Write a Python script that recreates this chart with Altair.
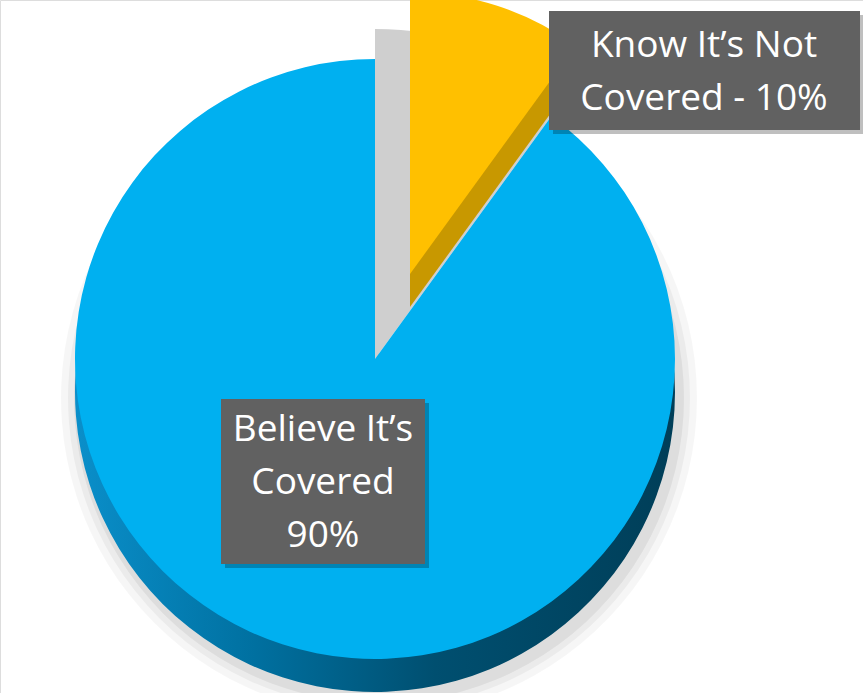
import math
import altair as alt
import pandas as pd

# ---- data ----
categories = ["Know It’s Not Covered", "Believe It’s Covered"]
values = [10, 90]
labels = ["Know It’s Not\nCovered - 10%", "Believe It’s\nCovered\n90%"]
top_colors = ["#FFC000", "#00B0F0"]

df = pd.DataFrame({"category": categories, "value": values, "label": labels})

# ---- layout / style ----
CX, CY = 375, 359      # pie centre
R = 300                # pie radius
DEPTH = 33             # 3-D side depth
EX, EY = 35, -85       # explode offset for the small slice
RY = 282               # radius of the exploded slice

theta_scale = alt.Scale(domain=[0, 100], range=[0, 2 * math.pi])

base = alt.Chart(df).transform_stack(
    stack="value", groupby=[], as_=["t0", "t1"], sort=[alt.SortField("value", order="ascending")]
)

fill_scale = alt.Scale(domain=categories, range=top_colors)


def slice_layer(cat, x, y, radius, fill, opacity=1.0):
    if isinstance(fill, str):
        fill = alt.value(fill)
    return base.transform_filter(alt.datum.category == cat).mark_arc(
        outerRadius=radius, opacity=opacity
    ).encode(
        theta=alt.Theta("t0:Q", scale=theta_scale),
        theta2="t1:Q",
        x=alt.value(x),
        y=alt.value(y),
        fill=fill,
    )


side_gradient = alt.LinearGradient(
    gradient="linear",
    stops=[
        alt.GradientStop(offset=0, color="#0a8fca"),
        alt.GradientStop(offset=0.3, color="#0070a0"),
        alt.GradientStop(offset=0.6, color="#004f70"),
        alt.GradientStop(offset=1, color="#003e58"),
    ],
    x1=0, x2=1, y1=0, y2=0,
)

big, small = categories[1], categories[0]

layers = []
# soft drop shadow of the pie
for extra, op in [(18, 0.035), (11, 0.045), (5, 0.06)]:
    layers.append(slice_layer(big, CX + 4, CY + DEPTH + 6, R + extra, "#000000", op))
# shadow visible in the gap left by the exploded slice
layers.append(slice_layer(small, CX, CY, R + 30, "#cfcfcf"))
# big slice: side, then top
layers.append(slice_layer(big, CX, CY + DEPTH, R, alt.value(side_gradient)))
layers.append(slice_layer(big, CX, CY, R, alt.Fill("category:N", scale=fill_scale, legend=None)))
# small exploded slice: side, then top
layers.append(slice_layer(small, CX + EX, CY + EY + DEPTH, RY, "#C89800"))
layers.append(slice_layer(small, CX + EX, CY + EY, RY, alt.Fill("category:N", scale=fill_scale, legend=None)))


def label_box(cat, x0, x1, y0, y1, tx, ty):
    b = base.transform_filter(alt.datum.category == cat)
    shadow = b.mark_rect(color="#000000", opacity=0.25).encode(
        x=alt.value(x0 + 4), x2=alt.value(x1 + 4), y=alt.value(y0 + 4), y2=alt.value(y1 + 4)
    )
    box = b.mark_rect(color="#616161").encode(
        x=alt.value(x0), x2=alt.value(x1), y=alt.value(y0), y2=alt.value(y1)
    )
    txt = b.mark_text(
        font="Open Sans", fontSize=37, color="white", align="center", baseline="middle",
        lineBreak="\n", lineHeight=53,
    ).encode(text="label:N", x=alt.value(tx), y=alt.value(ty))
    return [shadow, box, txt]


layers += label_box(small, 549, 860, 11, 130, 704, 46)
layers += label_box(big, 221, 425, 399, 564, 323, 430)

chart = alt.layer(*layers).properties(
    width=863, height=693, autosize=alt.AutoSizeParams(type="none"), padding=0
).configure_view(strokeWidth=0, stroke="transparent").configure(background="white")

chart.save("out.html", embed_options={"renderer": "svg", "actions": False})
